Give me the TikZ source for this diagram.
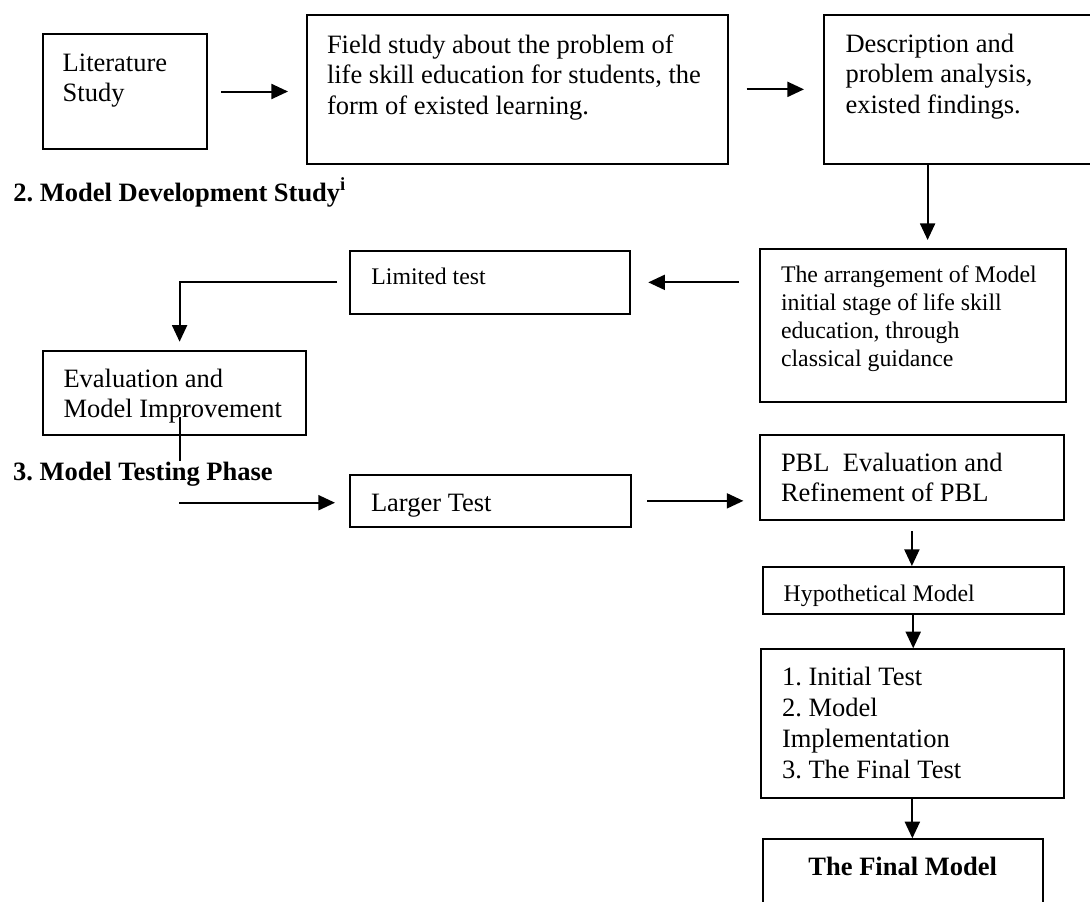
\documentclass[tikz,border=0pt]{standalone}
\usepackage{fontspec}
\setmainfont{Liberation Serif}
\frenchspacing
\usetikzlibrary{positioning, arrows.meta, calc}
\newcommand{\boxfont}{\fontsize{13.25pt}{15.4pt}\selectfont}
\newcommand{\noteboxfont}{\fontsize{11.9pt}{14.15pt}\selectfont}

\begin{document}
\begin{tikzpicture}[
    % GLOBAL CFG
    x=0.5pt, y=-0.5pt,
    >={Triangle[length=8.3pt, width=7.5pt]},
    % Styles
    stage/.style={% For the boxes of each step
        rectangle,
        draw,
        line width=1pt,
        anchor=north west,
        align=flush left,
        inner ysep=0pt,
        font=\boxfont,
    },
    note/.style={% Smaller text inside a box
        font=\noteboxfont,
    },
    head/.style={% For the phase titles
        anchor=base west,
        inner sep=0pt,
        font=\boxfont\bfseries,
    },
    flow/.style={% Arrows between boxes
        ->,
        line width=1pt,
    },
    joinline/.style={% Plain thin line
        line width=0.6pt,
    },
    ]
    \clip (0,0) rectangle (1090,901);

    % Phase 1 row
    \node[stage, text width=62pt, inner xsep=10pt, text height=18.35pt, text depth=38.85pt] (lit) at (41.7,33.3) {Literature\\Study};
    \node[stage, text width=190.35pt, inner xsep=10.15pt, text height=19pt, text depth=55.35pt] (field) at (305.7,14) {Field study about the problem of\\life skill education for students, the\\form of existed learning.};
    \node[stage, text width=117pt, inner xsep=10.75pt, text height=18.5pt, text depth=55.85pt] (desc) at (823,14) {Description and\\problem analysis,\\existed findings.};

    % Phase 2
    \node[head] (phase2) at (13,201) {2. Model Development Study\textsuperscript{i}};
    \node[stage, note, text width=132pt, inner xsep=10.5pt, text height=16.5pt, text depth=59.85pt] (arr) at (759,248) {The arrangement of Model\\initial stage of life skill\\education, through\\classical guidance};
    \node[stage, note, text width=118.8pt, inner xsep=10.7pt, text height=16.5pt, text depth=14.85pt] (lim) at (349,250) {Limited test};
    \node[stage, text width=110.9pt, inner xsep=10.35pt, text height=18pt, text depth=24pt] (eval) at (41.8,350) {Evaluation and\\Model Improvement};

    % Phase 3
    \node[head] (phase3) at (12.7,480.7) {3. Model Testing Phase};
    \node[stage, text width=119.65pt, inner xsep=10.35pt, text height=18pt, text depth=7.85pt] (larger) at (349.3,474) {Larger Test};
    \node[stage, text width=130.9pt, inner xsep=10.4pt, text height=18pt, text depth=24.5pt] (pbl) at (759.2,434) {PBL\ \ Evaluation and\\Refinement of PBL};
    \node[stage, note, text width=129.5pt, inner xsep=10.5pt, text height=17pt, text depth=6.65pt] (hyp) at (761.7,566) {Hypothetical Model};
    \node[stage, font=\fontsize{13.25pt}{15.65pt}\selectfont, text width=130.35pt, inner xsep=10.5pt, text height=17.85pt, text depth=56.35pt] (steps) at (760,648.3) {1. Initial Test\\2. Model\\Implementation\\3. The Final Test};
    \node[stage, align=flush center, font=\boxfont\bfseries, text width=119pt, inner xsep=10.5pt, text height=17.85pt, text depth=23pt] (final) at (761.7,838.3) {The Final Model};

    % Coordinates
    \coordinate (descout) at ([xshift=52.3pt]desc.south west);
    \coordinate (evalin) at ([xshift=68.9pt]eval.north west);
    \coordinate (evalout) at (180,416.7);
    \coordinate (dropend) at (180,460.7);
    \coordinate (feed) at (179.3,502.7);

    % Connect all
    \draw[flow, shorten <=6.65pt, shorten >=8.85pt] (lit.east) -- (lit.east -| field.west);
    \draw[flow, shorten <=8.75pt, shorten >=9.5pt] (field.east) -- (field.east -| desc.west);
    \draw[flow, shorten >=4pt] (descout) -- (descout |- arr.north);
    \draw[flow, shorten <=9.9pt, shorten >=8.45pt] (arr.west |- lim.east) -- (lim.east);
    \draw[flow, shorten <=6pt, shorten >=4.15pt] (lim.west) -| (evalin);
    \draw[joinline] (evalout) -- (dropend);
    \draw[flow, shorten >=7.15pt] (feed) -- (feed -| larger.west);
    \draw[flow, shorten <=7.6pt, shorten >=7.9pt] (larger.east) -- (larger.east -| pbl.west);
    \draw[flow, shorten <=5.15pt] (pbl.south) -- (pbl.south |- hyp.north);
    \draw[flow] (hyp.south) -- (hyp.south |- steps.north);
    \draw[flow] (steps.south) -- (steps.south |- final.north);

\end{tikzpicture}
\end{document}
